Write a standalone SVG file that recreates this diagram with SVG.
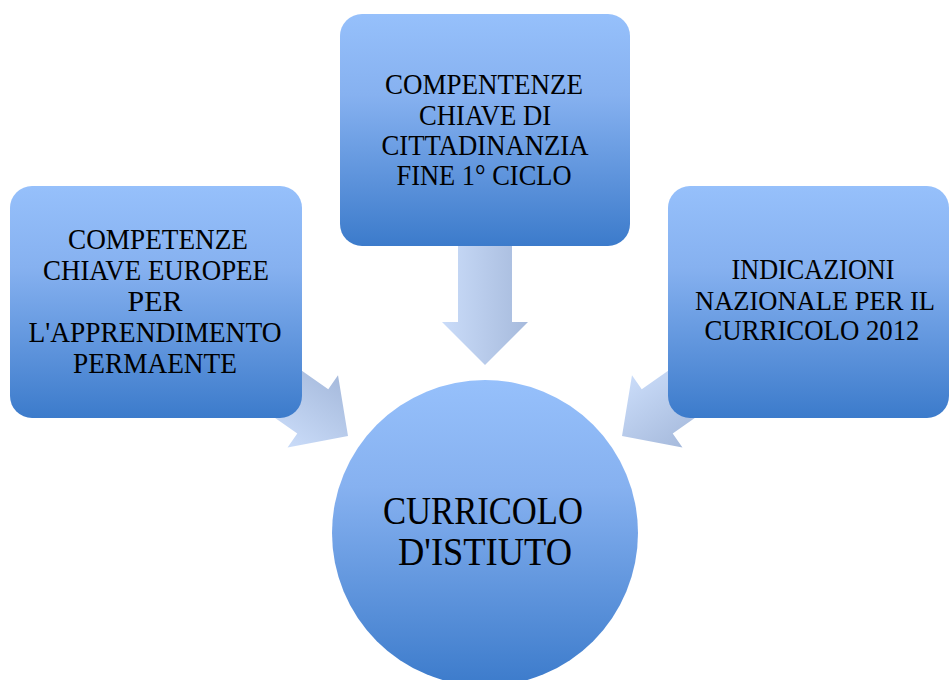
<svg xmlns="http://www.w3.org/2000/svg" width="949" height="680" viewBox="0 0 949 680">
<defs>
<linearGradient id="gBox" x1="0" y1="0" x2="0" y2="1">
<stop offset="0" stop-color="#96c0fb"/>
<stop offset="0.35" stop-color="#86b1f0"/>
<stop offset="1" stop-color="#3c7bcb"/>
</linearGradient>
<linearGradient id="gArrow" x1="0" y1="0" x2="0" y2="1">
<stop offset="0" stop-color="#a6badc"/>
<stop offset="1" stop-color="#cadcf9"/>
</linearGradient>
<style>
.box{fill:url(#gBox);}
.arrow{fill:url(#gArrow);}
.t{font-family:"Liberation Serif","Times New Roman",serif;font-size:29px;fill:#000;text-anchor:middle;}
.tc{font-family:"Liberation Serif","Times New Roman",serif;font-size:40px;fill:#000;text-anchor:middle;}
</style>
</defs>
<g id="connectors">
<polygon class="arrow" points="-120,-27 -43,-27 -43,-43 0,0 -43,43 -43,27 -120,27" transform="translate(485,365) rotate(90)"/>
<polygon class="arrow" points="-120,-27 -43,-27 -43,-44 0,0 -43,44 -43,27 -120,27" transform="translate(348,436) rotate(35)"/>
<polygon class="arrow" points="-120,-27 -43,-27 -43,-44 0,0 -43,44 -43,27 -120,27" transform="translate(622,436) rotate(145)"/>
</g>
<g id="node-top">
<rect class="box" x="340" y="14" width="290" height="232" rx="22" ry="22"/>
<text class="t" x="484" y="94" textLength="198" lengthAdjust="spacingAndGlyphs">COMPENTENZE</text>
<text class="t" x="485" y="125" textLength="132" lengthAdjust="spacingAndGlyphs">CHIAVE DI</text>
<text class="t" x="485" y="155" textLength="207" lengthAdjust="spacingAndGlyphs">CITTADINANZIA</text>
<text class="t" x="484" y="185" textLength="175" lengthAdjust="spacingAndGlyphs">FINE 1° CICLO</text>
</g>
<g id="node-left">
<rect class="box" x="10" y="186" width="292" height="232" rx="22" ry="22"/>
<text class="t" x="158" y="249" textLength="180" lengthAdjust="spacingAndGlyphs">COMPETENZE</text>
<text class="t" x="156" y="280" textLength="226" lengthAdjust="spacingAndGlyphs">CHIAVE EUROPEE</text>
<text class="t" x="155" y="311" textLength="55" lengthAdjust="spacingAndGlyphs">PER</text>
<text class="t" x="155" y="342" textLength="253" lengthAdjust="spacingAndGlyphs">L'APPRENDIMENTO</text>
<text class="t" x="155" y="373" textLength="164" lengthAdjust="spacingAndGlyphs">PERMAENTE</text>
</g>
<g id="node-right">
<rect class="box" x="668" y="186" width="281" height="232" rx="22" ry="22"/>
<text class="t" x="813" y="279" textLength="163" lengthAdjust="spacingAndGlyphs">INDICAZIONI</text>
<text class="t" x="815" y="310" style="font-size:27px" textLength="240" lengthAdjust="spacingAndGlyphs">NAZIONALE PER IL</text>
<text class="t" x="812" y="340" textLength="215" lengthAdjust="spacingAndGlyphs">CURRICOLO 2012</text>
</g>
<g id="node-center">
<circle class="box" cx="485" cy="533" r="153"/>
<text class="tc" x="483" y="524" textLength="200" lengthAdjust="spacingAndGlyphs">CURRICOLO</text>
<text class="tc" x="485" y="565" textLength="174" lengthAdjust="spacingAndGlyphs">D'ISTIUTO</text>
</g>
</svg>
